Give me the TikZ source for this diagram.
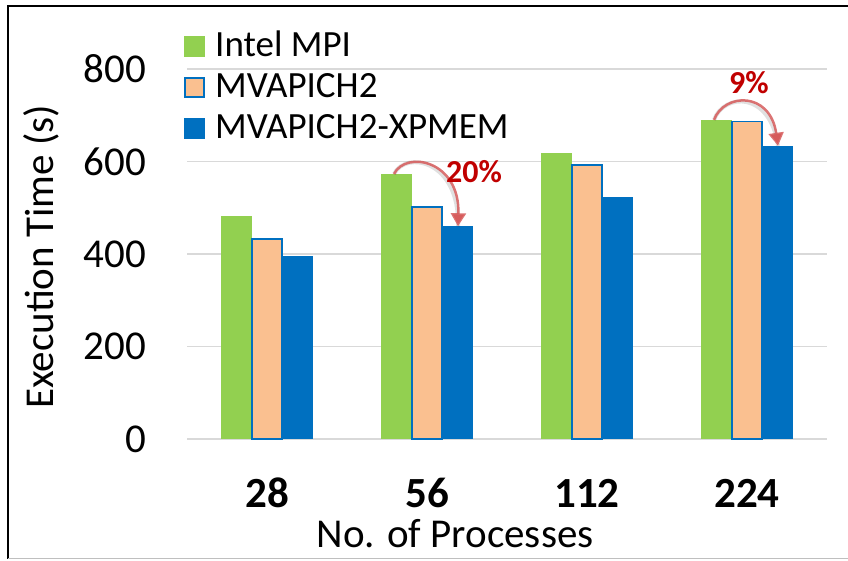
\documentclass[tikz,border=0pt]{standalone}
\usepackage{fontspec}
\setmainfont{Carlito}
\usetikzlibrary{arrows.meta}
\definecolor{intelgreen}{RGB}{146,208,80}
\definecolor{mvaorange}{RGB}{250,192,144}
\definecolor{xpmemblue}{RGB}{0,112,192}
\definecolor{gainred}{RGB}{192,0,0}
\definecolor{gainarc}{RGB}{214,92,92}
\definecolor{gridgray}{RGB}{217,217,217}
\tikzset{
  gridline/.style={draw=gridgray, line width=1.5pt},
  ticklabel/.style={anchor=east, inner sep=0pt, font=\fontsize{41}{49}\selectfont},
  catlabel/.style={anchor=base, inner sep=0pt, font=\fontsize{43}{52}\selectfont\bfseries},
  axislabel/.style={inner sep=0pt, font=\fontsize{41}{49}\selectfont},
  legtext/.style={anchor=base west, inner sep=0pt, font=\fontsize{37}{44}\selectfont},
  gainarrow/.style={draw=gainarc, draw opacity=0.85, line width=2.5pt, -{Triangle[length=13pt,width=15pt]}},
  gainshadow/.style={draw=black, draw opacity=0.12, line width=4pt},
  gainlabel/.style={text=gainred, inner sep=0pt, font=\fontsize{32}{38}\selectfont\bfseries}
}

\begin{document}
\begin{tikzpicture}[x=1pt,y=1pt]
  \useasboundingbox (0,0) rectangle (848,561);
  % frame
  \draw[line width=2.5pt] (8,2) -- (8,555) -- (848,555);
  \draw[black!25, line width=1pt] (8,2) -- (848,2);

  % grid, ticks and bars
  \begin{scope}[shift={(0,122)}, y=0.4625pt]
    \foreach \v in {0,200,...,800} {
      \draw[gridline] (187,\v) -- (827,\v);
      \node[ticklabel] (tick\v) at (146,\v) {\v};
    }
    \foreach \lab/\g/\o/\b [count=\i from 0] in {28/482/432/395, 56/573/502/460, 112/618/592/523, 224/690/686/634} {
      \pgfmathsetmacro\cx{267+160*\i}
      \fill[intelgreen] (\cx-46,0) rectangle (\cx-15,\g);
      \filldraw[fill=mvaorange, draw=xpmemblue, line width=1.5pt] (\cx-15,0) rectangle (\cx+15,\o);
      \fill[xpmemblue] (\cx+15,0) rectangle (\cx+46,\b);
      \coordinate (g\lab) at (\cx-33,\g);
      \coordinate (b\lab) at (\cx+31,\b);
    }
  \end{scope}

  % category labels and axis titles
  \foreach \lab [count=\i from 0] in {28,56,112,224}
    \node[catlabel] (cat\lab) at (267+160*\i,53) {\lab};
  \node[axislabel, anchor=base] (xtitle) at (455,13) {No. of Processes};
  \node[axislabel, rotate=90] (ytitle) at (41,304) {Execution Time (s)};

  % legend
  \fill[intelgreen] (184,504) rectangle (205,525);
  \node[legtext] (legintel) at (215,504) {Intel MPI};
  \filldraw[fill=mvaorange, draw=xpmemblue, line width=1.5pt] (185,464) rectangle (204,483);
  \node[legtext] (legmva) at (215,463) {MVAPICH2};
  \fill[xpmemblue] (184,422) rectangle (205,443);
  \node[legtext] (legxpmem) at (215,422) {MVAPICH2-XPMEM};

  % improvement arrows
  \draw[gainshadow, shift={(2,-3)}] (g56) .. controls +(12,24) and +(2,66) .. (b56);
  \draw[gainarrow] (g56) .. controls +(12,24) and +(2,66) .. (b56);
  \node[gainlabel] (gain56) at (474,389) {20\%};
  \draw[gainshadow, shift={(2,-3)}] (g224) .. controls +(10,27) and +(-8,55) .. (b224);
  \draw[gainarrow] (g224) .. controls +(10,27) and +(-8,55) .. (b224);
  \node[gainlabel] (gain224) at (749,478) {9\%};
\end{tikzpicture}
\end{document}
